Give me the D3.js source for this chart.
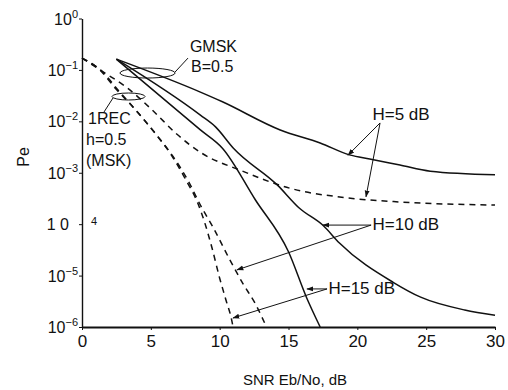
<!DOCTYPE html>
<html>
<head>
<meta charset="utf-8">
<script src="https://cdn.jsdelivr.net/npm/d3@7"></script>
<style>
  html, body { margin: 0; padding: 0; background: #fff; }
  svg { display: block; font-family: Arial, "Liberation Sans", Helvetica, sans-serif; }
</style>
</head>
<body>
<svg id="chart" width="508" height="390"></svg>
<script>
// axis ticks
const xTicks = [0, 5, 10, 15, 20, 25, 30];
const yExponents = [0, -1, -2, -3, -4, -5, -6];

// GMSK B=0.5, solid lines (SNR dB, Pe)
const gmskH5Snr = [2.5, 8.6, 10.2, 14.4, 17.3, 19.5, 20.9, 23.1, 25.3, 30];
const gmskH5Pe = [0.162, 0.037, 0.024, 6.8e-3, 3.8e-3, 2.2e-3, 1.86e-3, 1.41e-3, 1.07e-3, 9.1e-4];
const gmskH10Snr = [2.5, 8.6, 9.7, 11.0, 14.2, 15.8, 17.5, 18.7, 22.6, 24.6, 27.8, 30];
const gmskH10Pe = [0.162, 0.0132, 7.8e-3, 3.0e-3, 5.75e-4, 2.04e-4, 9.5e-5, 4.3e-5, 7.4e-6, 3.8e-6, 2.14e-6, 1.7e-6];
const gmskH15Snr = [2.5, 8.6, 10.2, 12.6, 15.0, 16.3, 17.3];
const gmskH15Pe = [0.162, 6.8e-3, 3.0e-3, 2.95e-4, 2.9e-5, 3.8e-6, 1e-6];

// 1REC h=0.5 (MSK), dashed lines
const mskH5Snr = [0, 1.3, 3.3, 5.1, 6.9, 8.7, 11.5, 15.1, 19.5, 23.1, 30];
const mskH5Pe = [0.17, 0.1, 0.0445, 0.0166, 5.6e-3, 2.4e-3, 1.12e-3, 5.0e-4, 3.2e-4, 2.7e-4, 2.35e-4];
const mskH10Snr = [0, 1.5, 2.6, 3.9, 5.5, 6.6, 7.8, 8.6, 9.5, 10.75, 11.7, 12.6, 13.4];
const mskH10Pe = [0.17, 0.091, 0.041, 0.0166, 5.1e-3, 2.1e-3, 6.3e-4, 2.35e-4, 8.9e-5, 2.0e-5, 6.9e-6, 2.8e-6, 1e-6];
const mskH15Snr = [0, 1.3, 2.4, 3.7, 5.3, 6.4, 7.55, 8.4, 8.9, 9.45, 10.0, 10.45, 10.9, 10.97];
const mskH15Pe = [0.17, 0.1, 0.0445, 0.019, 5.9e-3, 2.4e-3, 7.2e-4, 2.6e-4, 1.1e-4, 3.4e-5, 8.9e-6, 3.4e-6, 1.26e-6, 1e-6];

const series = [
  { snr: gmskH5Snr, pe: gmskH5Pe, dashed: false },
  { snr: gmskH10Snr, pe: gmskH10Pe, dashed: false },
  { snr: gmskH15Snr, pe: gmskH15Pe, dashed: false },
  { snr: mskH5Snr, pe: mskH5Pe, dashed: true },
  { snr: mskH10Snr, pe: mskH10Pe, dashed: true },
  { snr: mskH15Snr, pe: mskH15Pe, dashed: true }
];

// H labels with arrows: text anchor, arrow origin, arrow targets (data units)
const hLabels = [
  { text: "H=5 dB", at: [21.1, 1.06e-2], from: [21.65, 9.3e-3], to: [[19.32, 2.2e-3], [20.63, 3.4e-4]] },
  { text: "H=10 dB", at: [21.1, 7.7e-5], from: [21.0, 9.6e-5], to: [[17.5, 9.6e-5], [11.26, 1.29e-5]] },
  { text: "H=15 dB", at: [17.9, 4.4e-6], from: [17.8, 5.5e-6], to: [[16.34, 5.5e-6], [10.97, 1.5e-6]] }
];

const width = 508, height = 390;
const margin = { top: 18.5, right: 13, bottom: 63, left: 82 };

const x = d3.scaleLinear().domain([0, 30]).range([margin.left, width - margin.right]);
const y = d3.scaleLog().domain([1, 1e-6]).range([margin.top, height - margin.bottom]);

const svg = d3.select("#chart");

// arrow head
svg.append("defs").append("marker")
  .attr("id", "arrow")
  .attr("viewBox", "0 0 10 10")
  .attr("refX", 9).attr("refY", 5)
  .attr("markerWidth", 7).attr("markerHeight", 7)
  .attr("markerUnits", "userSpaceOnUse")
  .attr("orient", "auto")
  .append("path")
  .attr("d", "M0,1.5 L10,5 L0,8.5 Z")
  .attr("fill", "#111");

// curves
const line = d3.line()
  .x((d, i, arr) => x(d[0]))
  .y(d => y(d[1]))
  .curve(d3.curveMonotoneX);

series.forEach(s => {
  const pts = s.snr.map((v, i) => [v, s.pe[i]]);
  svg.append("path")
    .datum(pts)
    .attr("d", line)
    .attr("fill", "none")
    .attr("stroke", "#111")
    .attr("stroke-width", 1.5)
    .attr("stroke-dasharray", s.dashed ? "6,5" : null);
});

// axes
const xAxis = svg.append("g")
  .attr("transform", `translate(0,${y(1e-6)})`)
  .call(d3.axisBottom(x).tickValues(xTicks).tickSize(3).tickSizeOuter(0).tickFormat(d3.format("d")));
xAxis.select(".domain").attr("stroke", "#111").attr("stroke-width", 1.8);
xAxis.selectAll(".tick line").attr("stroke", "#111");
xAxis.selectAll(".tick text")
  .attr("font-size", 17).attr("fill", "#111").attr("dy", "0.86em").attr("y", 5)
  .attr("font-family", "Arial, 'Liberation Sans', sans-serif");

const yAxis = svg.append("g")
  .attr("transform", `translate(${x(0)},0)`)
  .call(d3.axisLeft(y).tickValues(yExponents.map(e => Math.pow(10, e))).tickSize(3).tickSizeOuter(0).tickFormat(""));
yAxis.select(".domain").attr("stroke", "#111").attr("stroke-width", 1.4);
yAxis.selectAll(".tick line").attr("stroke", "#111");

// y tick labels as 10 with superscript exponent
yExponents.forEach(e => {
  const ty = y(Math.pow(10, e));
  if (e === -4) {
    // printed as "1 0" with the exponent on the other side of the axis
    svg.append("text").attr("x", 69).attr("y", ty + 6)
      .attr("text-anchor", "end").attr("font-size", 16).attr("fill", "#111")
      .text("1 0");
    svg.append("text").attr("x", x(0) + 9).attr("y", ty + 1)
      .attr("font-size", 11).attr("fill", "#111")
      .text("4");
    return;
  }
  const t = svg.append("text")
    .attr("x", 78).attr("y", ty + 6)
    .attr("text-anchor", "end").attr("fill", "#111");
  t.append("tspan").attr("font-size", 16).text("10");
  t.append("tspan").attr("font-size", 11).attr("dy", -7)
    .text(e === 0 ? "0" : "\u2212" + (-e));
});

// axis titles
svg.append("text")
  .attr("transform", `translate(29,${157}) rotate(-90)`)
  .attr("text-anchor", "middle").attr("font-size", 16).attr("fill", "#111")
  .text("Pe");
svg.append("text")
  .attr("x", 295).attr("y", 385)
  .attr("text-anchor", "middle").attr("font-size", 15).attr("fill", "#111")
  .text("SNR Eb/No, dB");

// GMSK annotation
svg.append("ellipse")
  .attr("cx", x(4.76)).attr("cy", y(0.087))
  .attr("rx", x(2.0) - x(0)).attr("ry", 5)
  .attr("fill", "none").attr("stroke", "#111").attr("stroke-width", 1);
svg.append("line")
  .attr("x1", x(6.76)).attr("y1", y(0.091))
  .attr("x2", x(7.7)).attr("y2", y(0.17))
  .attr("stroke", "#111").attr("stroke-width", 1);
svg.append("text").attr("x", x(7.84)).attr("y", y(0.223))
  .attr("font-size", 16).attr("fill", "#111").text("GMSK");
svg.append("text").attr("x", x(7.92)).attr("y", y(0.091))
  .attr("font-size", 16).attr("fill", "#111").text("B=0.5");

// 1REC annotation
svg.append("ellipse")
  .attr("cx", x(3.38)).attr("cy", y(0.0304))
  .attr("rx", x(1.2) - x(0)).attr("ry", 3.5)
  .attr("fill", "none").attr("stroke", "#111").attr("stroke-width", 1);
svg.append("line")
  .attr("x1", x(2.25)).attr("y1", y(0.0284))
  .attr("x2", x(1.6)).attr("y2", y(0.0152))
  .attr("stroke", "#111").attr("stroke-width", 1);
[["1REC", 0.44, 8.9e-3], ["h=0.5", 0.29, 3.47e-3], ["(MSK)", 0.29, 1.35e-3]].forEach(d => {
  svg.append("text").attr("x", x(d[1])).attr("y", y(d[2]))
    .attr("font-size", 16).attr("fill", "#111").text(d[0]);
});

// H labels and arrows
hLabels.forEach(h => {
  h.to.forEach(t => {
    svg.append("line")
      .attr("x1", x(h.from[0])).attr("y1", y(h.from[1]))
      .attr("x2", x(t[0])).attr("y2", y(t[1]))
      .attr("stroke", "#111").attr("stroke-width", 1)
      .attr("marker-end", "url(#arrow)");
  });
  svg.append("text")
    .attr("x", x(h.at[0])).attr("y", y(h.at[1]))
    .attr("font-size", 17).attr("fill", "#111")
    .text(h.text);
});
</script>
</body>
</html>
